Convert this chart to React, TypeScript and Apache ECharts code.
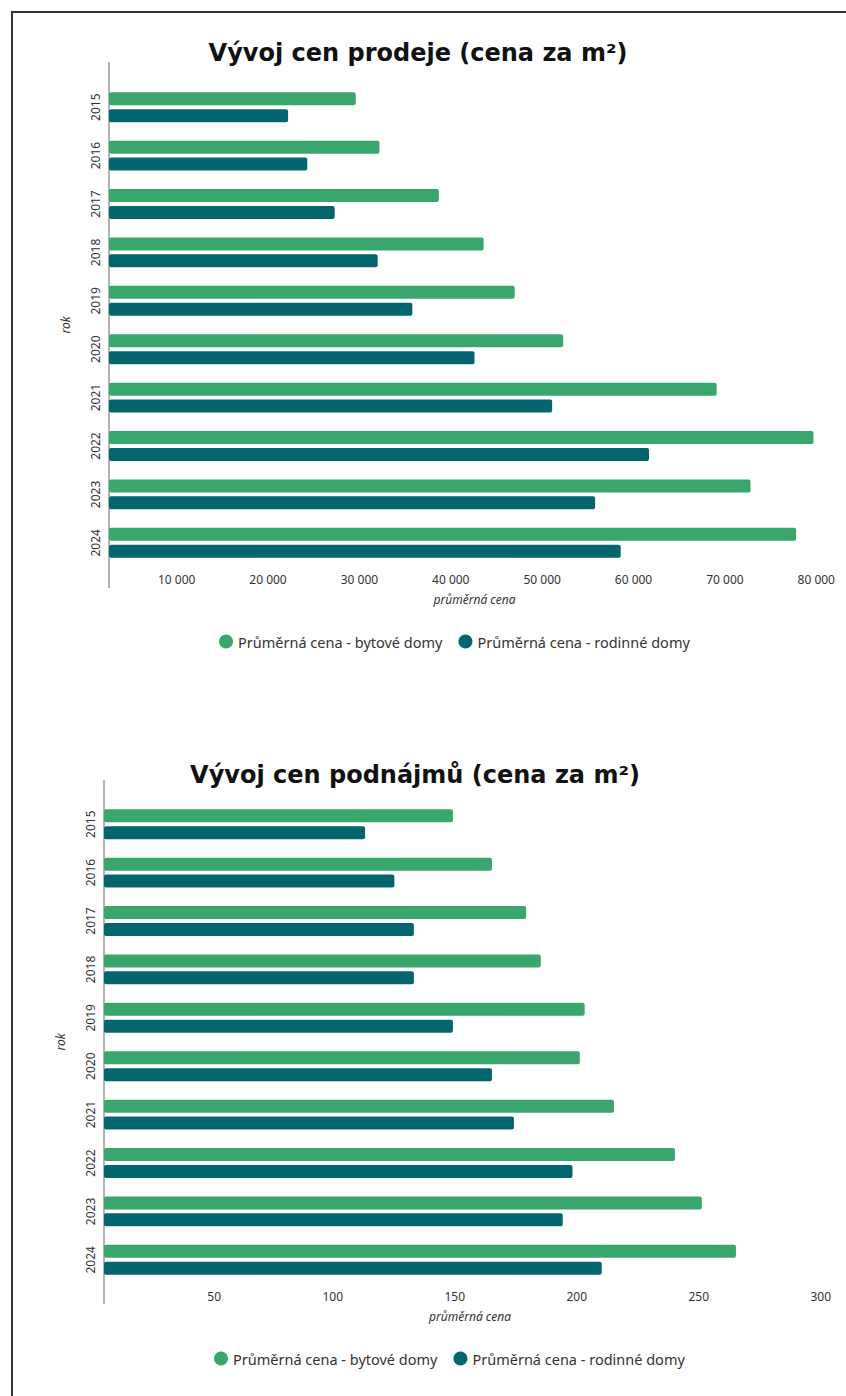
import React, { useEffect, useRef } from 'react';
import * as echarts from 'echarts';

const years = ['2015', '2016', '2017', '2018', '2019', '2020', '2021', '2022', '2023', '2024'];
const seriesNames = ['Průměrná cena - bytové domy', 'Průměrná cena - rodinné domy'];
const titles = ['Vývoj cen prodeje (cena za m²)', 'Vývoj cen podnájmů (cena za m²)'];
const xAxisName = 'průměrná cena';
const yAxisName = 'rok';

// Chart 1 – sale price per m²
const saleFlats = [27000, 29600, 36100, 41000, 44400, 49700, 66500, 77100, 70200, 75200];
const saleHouses = [19600, 21700, 24700, 29400, 33200, 40000, 48500, 59100, 53200, 56000];
// Chart 2 – rent per m²
const rentFlats = [143, 159, 173, 179, 197, 195, 209, 234, 245, 259];
const rentHouses = [107, 119, 127, 127, 143, 159, 168, 192, 188, 204];

const saleMax = 80000;
const saleStep = 10000;
const rentMax = 300;
const rentStep = 50;

const GREEN = '#39a76d';
const TEAL = '#03666f';
const FONT = '"Noto Sans", sans-serif';
const TITLE_FONT = '"DejaVu Sans", sans-serif';

const fmt = (v: number) => (v === 0 ? '' : String(v).replace(/\B(?=(\d{3})+(?!\d))/g, ' '));

export default function App() {
  const ref = useRef<HTMLDivElement>(null);
  useEffect(() => {
    if (!ref.current) return;
    const chart = echarts.init(ref.current, undefined, { renderer: 'svg' });

    const grids = [
      { left: 109, right: 6, top: 83, bottom: 829 },
      { left: 104, right: 10, top: 800, bottom: 112 },
    ];

    const xAxes = [
      { max: saleMax, step: saleStep },
      { max: rentMax, step: rentStep },
    ].map((a, i) => ({
      type: 'value',
      gridIndex: i,
      min: 0,
      max: a.max,
      interval: a.step,
      axisLine: { show: false },
      axisTick: { show: false },
      splitLine: { show: false },
      axisLabel: {
        formatter: fmt,
        align: 'right',
        padding: [0, 5, 0, 0],
        margin: 6,
        color: '#333',
        fontSize: 12,
        fontFamily: FONT,
      },
      name: xAxisName,
      nameLocation: 'middle',
      nameGap: 26,
      nameTextStyle: { fontStyle: 'italic', color: '#333', fontSize: 12, fontFamily: FONT },
    }));

    const yAxes = [0, 1].map((i) => ({
      type: 'category',
      gridIndex: i,
      data: years,
      inverse: true,
      axisLine: { show: false },
      axisTick: { show: false },
      splitLine: { show: false },
      axisLabel: { rotate: 90, margin: 8, color: '#333', fontSize: 12, fontFamily: FONT },
      name: yAxisName,
      nameLocation: 'middle',
      nameRotate: 90,
      nameGap: 38,
      nameTextStyle: { fontStyle: 'italic', color: '#333', fontSize: 12, fontFamily: FONT },
    }));

    const mkBar = (name: string, data: number[], color: string, gi: number) => ({
      type: 'bar',
      name,
      data,
      xAxisIndex: gi,
      yAxisIndex: gi,
      barWidth: 13,
      barGap: '30%',
      itemStyle: { color, borderRadius: 2 },
    });

    chart.setOption({
      animation: false,
      backgroundColor: 'transparent',
      color: [GREEN, TEAL],
      title: [
        { text: titles[0], left: 413, top: 36, textAlign: 'center' },
        { text: titles[1], left: 410, top: 758, textAlign: 'center' },
      ].map((t) => ({
        ...t,
        textStyle: { fontSize: 24, fontWeight: 'bold', color: '#111', fontFamily: TITLE_FONT },
      })),
      legend: [
        { left: 214, top: 629 },
        { left: 209, top: 1346 },
      ].map((l) => ({
        ...l,
        data: seriesNames,
        icon: 'circle',
        itemWidth: 14,
        itemHeight: 14,
        itemGap: 16,
        textStyle: { fontSize: 14.5, color: '#333', fontFamily: FONT },
      })),
      grid: grids,
      xAxis: xAxes,
      yAxis: yAxes,
      series: [
        mkBar(seriesNames[0], saleFlats, GREEN, 0),
        mkBar(seriesNames[1], saleHouses, TEAL, 0),
        mkBar(seriesNames[0], rentFlats, GREEN, 1),
        mkBar(seriesNames[1], rentHouses, TEAL, 1),
      ],
      graphic: [
        { type: 'line', shape: { x1: 109, y1: 62, x2: 109, y2: 588 }, style: { stroke: '#9a9a9a', lineWidth: 1.5 } },
        { type: 'line', shape: { x1: 104, y1: 780, x2: 104, y2: 1304 }, style: { stroke: '#9a9a9a', lineWidth: 1.5 } },
      ],
    });
    return () => chart.dispose();
  }, []);

  return (
    <>
      <div
        style={{
          position: 'absolute',
          left: 11,
          top: 11,
          width: 835,
          height: 1385,
          boxSizing: 'border-box',
          borderTop: '2px solid #333',
          borderLeft: '2px solid #333',
        }}
      />
      <div ref={ref} style={{ position: 'absolute', left: 0, top: 0, width: 846, height: 1396 }} />
    </>
  );
}
